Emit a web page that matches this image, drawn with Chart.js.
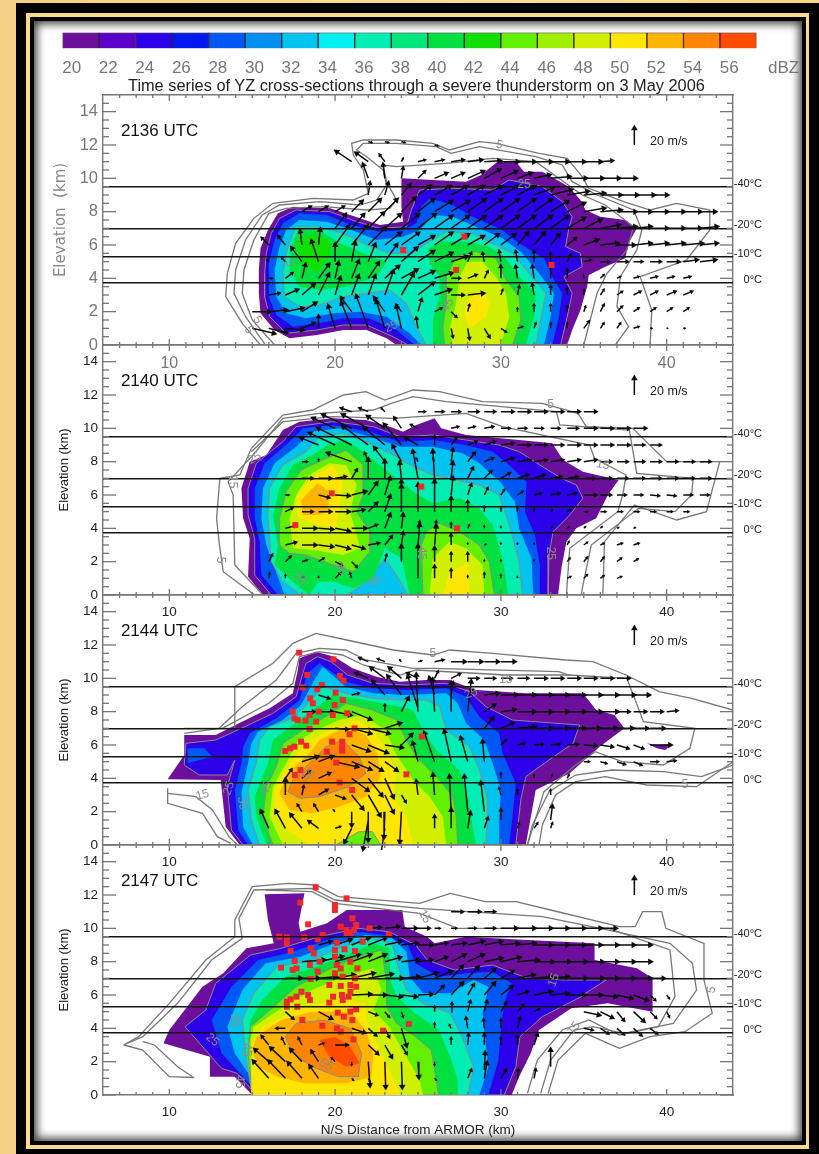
<!DOCTYPE html>
<html>
<head>
<meta charset="utf-8">
<title>YZ cross-sections 3 May 2006</title>
<script src="https://cdn.jsdelivr.net/npm/chart.js@4"></script>
<style>
  html, body { margin: 0; padding: 0; }
  body { width: 819px; height: 1154px; position: relative; overflow: hidden; background: linear-gradient(90deg, #f5cf86, #fbdc98 60%, #f7d48c); font-family: "Liberation Sans", sans-serif; }
  .frame { position: absolute; box-sizing: border-box; }
  #outer { left: 16px; top: 3px; right: 0; bottom: 0; background: #000; }
  #gold { left: 26px; top: 13px; width: 783px; height: 1136px; background: #f9d88f; }
  #innerBlack { left: 30px; top: 17px; width: 776px; height: 1128px; background: #000; }
  #paper { left: 34px; top: 21px; width: 768px; height: 1120px; background: #fff; box-shadow: inset 0 0 9px 3px rgba(0,0,0,.75); }
  canvas { position: absolute; left: 0; filter: blur(.3px); }
  .txt { position: absolute; white-space: nowrap; filter: blur(.3px); }
  #title { left: 128px; top: 76px; font-size: 16.35px; color: #222; }
  #dbz { left: 768px; top: 58px; font-size: 17px; color: #777; }
</style>
</head>
<body>
<div class="frame" id="outer"></div>
<div class="frame" id="gold"></div>
<div class="frame" id="innerBlack"></div>
<div class="frame" id="paper"></div>
<canvas id="colorbar" width="819" height="70" style="top:20px"></canvas>
<div class="txt" id="dbz">dBZ</div>
<div class="txt" id="title">Time series of YZ cross-sections through a severe thunderstorm on 3 May 2006</div>
<canvas id="panel1" width="819" height="350" style="top:45px"></canvas>
<canvas id="panel2" width="819" height="350" style="top:295px"></canvas>
<canvas id="panel3" width="819" height="350" style="top:545px"></canvas>
<canvas id="panel4" width="819" height="350" style="top:795px"></canvas>
<script>
// colour bar
const barLevels = [20,22,24,26,28,30,32,34,36,38,40,42,44,46,48,50,52,54,56];
const barColors = ['#6b0f9c','#5a00c8','#2c00e8','#0018f0','#0058f4','#0090f0','#00c4f0','#00f0f0','#00eeb4','#00e67a','#00e040','#10e000','#60f000','#a0ee00','#d0f000','#ffe600','#ffb400','#ff8400','#ff4c00'];

const xMajor = [10,20,30,40];
const xMinorTicks = [7,8,9,11,12,13,14,15,16,17,18,19,21,22,23,24,25,26,27,28,29,31,32,33,34,35,36,37,38,39,41,42,43];
const yMajor = [0,2,4,6,8,10,12,14];
const yMinorTicks = [.5,1,1.5,2.5,3,3.5,4.5,5,5.5,6.5,7,7.5,8.5,9,9.5,10.5,11,11.5,12.5,13,13.5,14.5];
const isotherms = [3.75,5.3,7,9.5];
const isothermLabels = ['0°C','-10°C','-20°C','-40°C'];

// 2136 UTC reflectivity outlines, x km, y km
const p1Z20 = [23.7,0,34,0,34.3,.9,34.8,2.1,35.2,3.5,35.3,4.2,36.3,4.7,37.5,5.2,37.7,6.1,38.2,7,37.5,7.5,36,7.7,35.1,8.1,34.8,8.7,34.1,9.5,32.5,10.4,31.4,10.4,30.9,11,29.8,11,28.8,10.2,27.9,9.8,25.9,9.9,24,10,24,8.3,24.1,7.4,22.7,7.2,21.5,7.6,19.7,8.2,17.45,8.3,16.55,7.9,15.95,6.9,15.5,5.8,15.4,4.5,15.4,3.1,15.5,1.9,16.35,.9,17.25,.4,18.9,.6,20.5,.9,21.9,.9,23.1,.4];
const p1Z24 = [24.4,0,33.6,0,34,1.7,34.3,3.1,33.8,4.1,34.9,4.7,34.8,5.5,33.9,5.9,34.1,7,34.3,7.7,33.7,8.6,32.5,9.5,30.5,9.9,29.5,9.3,27.1,9.4,25.1,9.3,24.6,8.1,24.3,7.1,22.7,7,21.3,7.4,19.7,8,17.65,8.1,16.65,7.6,16.15,6.7,15.85,5.5,15.75,4.3,15.75,2.9,16.05,1.7,17.05,.7,18.9,.9,20.5,1.2,21.9,1.2,23.5,.5];
const p1Z28 = [24.8,0,33.1,0,33.5,1.7,33.7,3.1,33.1,4.1,32.6,5.2,31.1,6.1,30.1,6.9,28.3,7.7,27.1,8.4,25.7,8.8,25.2,8.3,24.9,7.3,24.1,6.9,22.7,6.8,21,7.2,19.5,7.8,17.85,7.9,16.85,7.3,16.35,6.3,16,4.9,16,2.9,16.45,1.8,17.45,1.1,19.05,1.3,20.5,1.6,22,1.6,23.7,.9];
const p1Z32 = [25.2,0,32.6,0,33,1.7,33.2,3.1,32.3,4.3,31.3,5.5,30.1,6.4,28.5,7.1,27.1,7.7,25.9,7.8,25.1,6.9,24.1,6.5,22.5,6.3,21,6.9,19.5,7.4,17.85,7.5,17.05,6.9,16.65,5.9,16.35,4.5,16.45,2.9,17.05,1.9,18.25,1.6,19.9,1.9,21.5,2,23.1,1.7,24.5,.7];
const p1Z36 = [25.5,0,32.1,0,32.4,1.5,32.7,3.1,31.7,4.3,30.7,5.5,29.5,6.1,28.3,6.7,26.7,6.8,25.5,6.1,24.7,5.5,23.3,5.5,21.9,6,20.5,6.7,18.9,7.1,17.65,7.1,17.15,5.9,16.85,4.3,16.95,2.9,17.85,2.3,19.05,2.4,20.5,2.9,21.9,3.1,23.3,3.3,24.3,2.5,24.9,1.1];
const p1Z40a = [25.9,0,31.5,0,32,1.7,32.1,3.1,31.1,4.1,30.3,5.2,29.3,5.9,27.9,6.2,26.5,6.2,25.6,5.8,25.7,4.9,26.3,4.1,26.3,2.9,25.9,1.5];
const p1Z40b = [17.75,6.9,19.05,6.9,20.3,6.1,21.7,5.5,23.1,5,22.5,4.1,20.7,3.5,19.05,3.3,17.85,3.5,17.25,4.5,17.35,5.9];
const p1Z42 = [17.65,6.3,18.9,6.7,19.8,6,19.5,5.1,18.9,4.3,17.85,5.1];
const p1Z44 = [26.6,0,30.7,0,31.2,1.5,31.1,2.9,30.3,3.9,29.7,5.2,28.5,5.6,27.3,5.3,26.7,4.1,26.7,2.5,26.5,1.1];
const p1Z48 = [27.1,0,30,0,30.5,1.7,30.3,3.1,29.7,4.1,28.9,5,28,5,27.5,4.1,27.3,2.5,26.9,.9];
const p1Z50 = [28.9,3.3,29.3,2.5,29.1,1.7,28.1,1,27.8,1.9,28,2.7];
const p1Line5 = [15.5,0,14.4,1.3,13.4,2.9,13.5,4.3,14,6.1,15.1,7.6,16.25,8.5,18.7,8.8,21.1,8.7,22,9.1,21.7,10.5,21.1,11.4,21,12.1,21.7,12.3,23.7,12.3,25.9,12.1,26.9,11.7,28.7,12.2,29.7,12.1,32.3,11.5,34,11.2,34.9,10.1,35.3,9.4,37.4,8.6,39,8.1,40.6,8.5,42.6,8.1,42.6,6.9,41.2,5.1,38.4,4.1,39.1,2.1,39,0];
const p1Line10 = [15.8,0,14.6,1.7,13.9,3.1,14,4.5,14.6,6.3,15.6,7.8,16.65,8.4,19.1,8.6,21.5,8.4,22.5,8.7,23.1,9.6,22.9,10.5,21.9,11.3,21.3,11.7,21.7,12.1,23.7,12.1,26.1,11.9,27,11.5,28.7,11.9,32.1,11.3,33.7,10.8,34.3,9.8,35.8,9,38,8.1,38.5,6.9,38.2,5.7,37.2,4.1,37,2.3,37.7,1.1,36.9,0];
const p1Line15 = [16.35,0,15,1.5,14.4,3.1,14.5,4.5,15.1,6.3,16,7.9,17.05,8.2,19.3,8.3,21.9,8.1,23.3,8.2,23.7,8.7,23.1,9.8,22.9,10.8,23.7,10.7,26.7,10.9,29.5,11.2,32.1,11,34.9,9,36.3,8.4,38,7.1,37.6,5.7,36.4,4.3,35.8,3.1,35,0];
// wind rows: y, first x, then dx,dy per km along the row
const p1Winds = [
  [12.2,22,.2,-.05,.2,-.05,.2,-.05],[12,26,.2,-.05],
  [11,21,-.9,.6,-.7,.5,-.3,.4,.1,.2,.4,.1,.5,.1,.7,.1,.8,.1,.9,.05,1,0,1,0,1,0,1,0,1,0,1,0,.7,.05],
  [10,22,-.3,.8,-.1,.8,.1,.6,.4,.4,.7,.3,.7,.3,.9,.4,.9,.5,.9,.4,.8,.3,.9,.2,1.1,.1,1.1,0,1.1,0,1.1,0,1.1,0],
  [9,22,.1,.7,.2,.7,.5,.6,.7,.5,.9,.5,.9,.5,.9,.5,1,.5,1,.5,1,.5,1.1,.4,1.2,.3,1.2,.2,1.2,.1,1.2,0,1.2,0,1.2,0,1,0],
  [8,18,.5,.3,.5,.3,.5,.3,.6,.6,.7,.7,.7,.7,.8,.8,.9,.7,1,.6,1,.6,1,.7,1,.7,1,.7,1,.7,1,.7,1,.6,1,.5,1.2,.2,1.2,.1,1.1,0,1,0,1,0,1,0,1,0,.9,0],
  [7,20,.6,.8,.7,.8,.9,.9,.9,.8,1,.8,1,.8,1,.7,1,.7,1,.7,1,.7,1,.7,1,.7,1,.7,1,.7,1,.6,1,.5,1.1,.2,1.1,.1,1,.1,1,0,1,0,1,0,1,.1],
  [6,16,-.4,.4,-.4,.5,-.1,.8,.1,.9,.8,1.1,.9,1.1,1,1,.9,.7,1,.7,.9,.5,1,.7,1,.6,.9,.5,.8,.6,.8,.6,.6,.7,.6,.7,.5,.6,.5,.4,.8,.3,1,.1,1,0,1,.1,1,.1,1,.1,1.1,.1,1,.1],
  [5,16,-.1,.1,-.2,.2,-.6,.8,-.4,1.2,0,1,.2,1.1,.4,1,.7,1,.9,.8,.9,.6,1,.5,.9,.3,.2,.5,-.1,.5,-.1,.6,-.1,.6,0,.6,0,.5,.2,.4,.4,.1,.5,0,.6,0,.5,0,.6,0,.7,0,.8,.1,.9,.1],
  [4,16,.2,0,.4,.3,.2,.8,.6,.8,.2,.9,.4,1,.6,.9,.8,.7,.9,.5,.9,.4,1,.3,.5,0,.5,.2,.2,.4,0,.7,-.1,.7,-.1,.7,0,.8,0,.5,0,.2,.2,.2,.2,.1,.3,.1,.4,.1,.4,.1,.4,.1],
  [3,16,.6,.1,.7,.3,.7,.6,.6,1.2,.3,1,.4,1.1,.4,1.1,.5,1.4,.7,1.2,.9,.7,.9,.3,.7,0,.9,.1,0,0,.1,.3,.1,.5,-.1,.6,0,.5,0,.4,0,.3,.2,.3,.3,.2,.4,.2,.4,.2,.5,.2,.5,.2],
  [2,15,1,0,1,.1,1,.2,.8,.5,0,0,0,0,-.6,.8,0,0,-.6,.8,-.3,.4,.2,.7,.4,.2,.3,-.3,.1,.4,0,0,0,0,0,.2,0,.4,0,.4,0,.3,.1,.3,.2,.4,.3,.3,.3,.2,.3,.2,.3,.2,.3,.2],
  [1,15,1.3,-.3,1,-.25,1,-.1,.7,.3,0,.7,-.4,1.3,-.6,1.5,-.7,1.9,-.5,1.6,-.3,1.3,-.1,.6,0,0,.1,-.5,.1,-.6,.3,-.5,.3,-.2,.3,.1,.1,.3,0,.3,0,.3,.3,.4,.2,.3,.2,.3,.3,.1,.1,0,.05,0,.1,0]
];
const p1Flashes = [24.1,5.7,27.8,6.5,27.3,4.5,33.05,4.8];
const p1Labels = [['5',29.9,12,15],['5',17.25,4.9,70],['25',23.4,1.1,-25],['45',26.8,2.4,-60],['25',31.4,9.6,0],['5',15.3,1.5,60],['5',14.8,.9,60]];

// 2140 UTC
const p2Z20 = [15.65,0,14.75,1.1,14.85,3.4,14.45,4.6,14.35,6.4,14.85,8,15.85,8.4,16.85,9.9,17.85,10.4,19.85,10.6,21.85,10.5,23.3,10.1,24.1,9.8,24.9,10.2,26,10.6,26.4,10,27.9,9.6,31.1,9.3,33.1,9.1,33.75,8.1,34.95,7.4,37.1,6.9,36.45,6,35.75,4.6,34.55,4,33.95,3.2,33.65,1.6,33.45,0];
const p2Z24 = [16.15,0,15.15,1.2,15.15,3.4,14.75,4.8,14.75,6.4,15.25,7.9,16.85,9.2,17.65,10.1,19.85,10.4,22.3,10.1,23.9,9.5,25.9,9.6,27.9,9.3,29.9,9,31.1,8.6,32.35,7.8,33.65,7,34.55,6.6,34.95,5.8,34.15,4.8,33.15,3.8,32.9,2.4,32.85,0];
const p2Z28 = [16.55,0,15.55,1.2,15.45,3.2,15.15,4.6,15.15,6.4,15.75,7.9,17.15,9.1,18.05,10,19.85,10.2,22.1,9.8,23.9,9.2,25.9,9.3,27.9,9,29.5,8.6,30.5,7.8,31.55,6.8,31.45,5,32.05,3.6,32.35,1.8,32.35,0];
const p2Z32 = [16.95,0,15.85,3,15.55,4.6,15.65,6.4,16.35,7.9,17.65,8.9,18.55,9.8,20.25,10,22.1,9.5,23.9,8.9,25.9,8.9,27.7,8.5,28.7,7.9,29.95,6.8,30.85,5.6,31.1,4,31.85,2.2,31.95,0];
const p2Z36 = [17.95,0,16.85,.8,16.15,2,16.05,3.4,15.95,4.8,16.05,6.4,16.85,7.8,18.25,8.6,19.05,9.5,20.45,9.7,22.1,9.1,23.7,8.3,24.7,7.7,25.9,7.2,27.3,6.9,28.7,6.6,29.9,6,30.5,4.2,31.1,2,31.3,0,24.4,0,23.7,1.2,23,2.2,21.9,.8,20.7,0];
const p2Z40 = [18.45,0,17.45,.8,16.35,1.8,16.55,3,16.25,4.8,16.65,6.4,17.45,7.8,18.65,8.4,19.55,9,20.65,9.3,21.7,8.6,22.7,7.8,23.7,7,24.7,6.2,25.9,5.5,27.5,5.8,28.7,5.2,29.5,4.2,30.1,2.2,30.45,0,24.5,0,24,2.2,23,2.8,22.3,1,21.1,.4,19.9,.8,19,.8];
const p2Z44a = [16.65,3,16.65,4.6,17.05,6.2,17.95,7.5,19.25,8.1,20.65,8.7,21.7,7.8,21.7,6,21.3,5,22.1,3.8,22.1,2.6,21.1,1.4,19.9,1.8,18.25,2.4,17.25,2.5];
const p2Z44b = [25.3,0,25.2,3,25.5,3.8,26.3,4.3,27.5,3.8,28.7,3,29.3,2,29.6,0];
const p2Z48a = [17.45,2.8,17.25,4.6,17.65,6,18.45,7.2,19.65,7.9,20.65,7.8,21.3,6.6,20.9,5,21.3,3.6,21.5,2.8,20.5,2.4,18.65,2.7];
const p2Z48b = [25.7,0,25.9,2.2,26.9,3.2,27.9,2.8,28.9,1.8,29,0];
const p2Z50a = [17.75,4.7,17.65,5.8,18.45,6.9,19.85,7.8,20.45,6.8,20.35,5.8,20.05,4,18.85,4.2];
const p2Z50b = [26.5,0,26.9,1.4,28,1.9,28.1,0];
const p2Z52 = [18.05,4.8,17.95,5.7,18.95,6.7,19.55,6.3,19.65,5,18.85,4.8];
const p2Line5 = [15.15,0,13.25,1.4,13,3.2,12.85,4.6,13.05,7,14.25,7.2,14.95,8.8,16.85,10.8,18.65,11.1,20.5,12,21.85,12.2,23,11.7,24.7,12.3,26.3,12.2,28.9,11.6,32.5,11.5,34.65,10.9,35.15,10.1,37.95,10,40,8,43.2,8,42.4,5,40.6,4.5,38.05,5.4,36.25,3.2,36.15,0];
const p2Line10 = [15.65,0,13.95,1.8,13.85,6,13.55,6.8,15.05,8.4,16.85,10.6,19.05,10.9,22.3,11.1,23.4,11.5,24.7,11.9,26.7,11.6,33.35,11,33.55,10.2,37.75,9.9,37.9,9,38.2,7.3,41.6,7,41.5,6,40.5,5,38.3,5.2,35.45,3,34.95,.6,34.85,0];
const p2Line15 = [14.95,8.6,16.85,10.4,19.85,10.7,23.5,10.6,27.9,10.9,30.1,10.1,35.35,9,35.65,8.2,37.55,7.2,37.35,6,37.05,5,34.15,2.8,33.95,0];
const p2Winds = [
  [11,21,-.6,.2,-.5,.2,-.2,.2,0,0,.4,0,.5,0,.5,0,.6,0,.6,0,.7,0,.7,0,.7,0,.7,0,.7,0,.7,0],
  [10,20,-1.3,.6,-1.7,.8,-1.5,.8,-1,.7,-.4,.6,-.4,.2,0,0,.4,.1,.4,.1,.5,.1,.5,0,.5,0,.5,0,.5,0,.6,0,.7,0,.7,0,.7,0,.7,0],
  [9,19,-1,.4,-1.5,.7,-2,1,-1.5,1.1,-1.2,1,-1,1.2,-.7,.4,0,.5,.3,.4,.5,.2,.6,.2,.7,.1,.7,0,.7,0,.7,0,.7,0,.7,0,.7,0,.7,0,.6,0,.6,0],
  [8,18,.3,0,0,.15,0,0,-1.4,.5,-.2,.5,-.6,.8,-.5,.9,-.1,.2,-.1,.2,.1,.7,.4,.5,.5,.2,.7,.2,.7,.1,.7,.1,.7,.1,.7,.1,.7,.1,.6,0,.6,0,.6,0,.6,0,.6,0,.6,0,.6,0],
  [7,18,.6,0,.7,0,.6,.1,.3,.5,0,1.1,0,1,-.1,.9,-.3,1.6,-.1,1.6,.1,.9,.3,.6,.4,.4,.5,.3,.6,.2,.6,.2,.6,.1,.6,.1,.6,0,.6,0,.6,0,.6,0,.6,0,.6,0,.6,0,.6,0],
  [6,17,.2,0,0,0,.6,-.15,.8,-.05,.8,.2,.5,.7,.3,1,0,.8,0,0,0,0,.1,1,.2,.6,.2,.4,.2,.3,.3,.2,.4,.1,.5,.1,.5,.1,.7,0,.6,0,.5,0,.5,0,.5,-.05,.5,-.05,.5,0,.5,0],
  [5,17,.4,.2,.6,0,.7,0,.8,0,.7,.1,.5,.5,.3,.9,0,1.5,0,1.6,0,1.8,0,.8,0,.6,0,.3,0,.2,0,.2,0,.2,.1,.1,.2,.1,.2,0,.3,0,.3,0,.3,0,.3,0,.3,0,.3,0],
  [4,17,.6,.15,.8,0,.8,-.05,.8,-.15,.8,0,.5,.2,.3,.8,.1,.8,.1,.4,.1,.4,0,.3,.1,.2,0,.15,0,.1,0,0,0,0,.1,.1,.1,.1,.1,.1,.1,.1,.1,.05,.1,.05],
  [3,17,.6,.15,.8,0,.8,-.1,.8,-.2,.7,-.2,.6,.1,.4,.5,.1,.7,.1,1.2,.1,1.1,0,.6,0,.1,.1,.05,0,.1,0,.1,0,.1,0,0,.1,.2,.2,.15,.2,.1,.3,.1,.3,.1],
  [2,16,.2,.4,.3,.3,.3,.1,.3,.2,.4,-.2,.3,-.3,0,0,.1,.4,0,.9,0,0,0,.8,0,.5,0,.5,0,.1,0,.1,0,0,0,.1,0,0,.15,.2,.2,.25,.2,.25,.25,.2,.25,.15],
  [1,16,.05,.3,0,.2,.1,.1,0,.1,.3,.3,-.1,.3,0,0,0,0,0,0,0,1.9,0,.7,0,.5,0,.15,0,.3,0,.2,0,.1,0,0,0,0,.2,.1,.2,.2,.2,.15,.25,.1]
];
const p2Flashes = [19.8,6.1,17.6,4.2,25.2,6.5,27.35,4];
const p2Labels = [['5',33,11.4,0],['5',13.1,2.1,90],['15',36.15,7.8,10],['15',13.8,6.8,90],['45',25.2,2.5,90],['35',17.9,1,40],['35',20.3,1.6,50],['35',22.4,.8,-40],['25',33,2.5,90],['25',15.15,8.2,-30]];

// 2144 UTC
const p3Z20 = [14.25,0,13.4,1.1,13.1,3.9,9.9,3.95,10.9,5.4,10.9,6.6,12.8,6.6,14.2,7.3,16.05,8.2,17.45,9.1,17.75,10.5,17.85,11.2,18.85,11.6,19.95,11.3,21.05,10.6,22.5,10.1,23.9,9.8,25.5,9.9,26.9,9.9,28.5,9.3,31.5,9.1,34.95,9.1,35.75,8.1,36.85,7.8,37.45,7,35.95,5.9,34.15,4.3,32.1,3.3,31.7,1.1,31.5,0];
const p3Z20b = [38.8,6.1,39.4,6,40,6.05,40.3,6,39.9,5.7,39.4,5.8];
const p3Z24 = [14.45,0,13.75,.9,13.5,3.5,13.95,5.1,13.5,4.2,11.8,4.2,10.9,4.8,11,6.1,12.8,6.3,14.35,7,16.25,7.9,17.65,8.9,18.05,10.3,18.25,10.9,18.95,11.3,19.75,11,20.75,10.2,22.3,9.7,24.3,9.6,26.7,9.7,28.1,9.2,29.1,8.3,30.7,7.5,34.75,7.2,34.35,6.1,32.9,5.1,31.5,4.1,31.2,2.7,30.9,0];
const p3Z28 = [14.75,0,14.15,.9,13.95,3.3,14.35,4.9,14.45,5.9,14.85,6.7,16.45,7.6,17.85,8.7,18.35,10.3,19.05,10.9,19.65,10.5,20.65,9.8,22.3,9.4,24.3,9.3,26.7,9.4,27.9,8.9,28.7,7.7,29.9,6.7,30.1,5.5,30.9,3.7,30.7,1.7,30.5,0];
const p3Z28b = [11.1,5.8,12.1,5.8,12.6,5.3,11.1,4.9];
const p3Z32 = [15.05,0,14.45,1.1,14.35,3.1,14.75,4.9,14.95,6.1,15.35,6.8,16.85,7.5,17.95,8.4,18.75,9.9,19.25,10.7,20.65,9.5,22.3,9.1,24.3,9,26.7,9.1,27.4,8.5,27.9,7.3,29,6.3,29.5,4.9,30,3.3,29.9,1.7,29.9,0];
const p3Z36 = [15.45,0,14.95,1.5,14.75,3.3,15.25,4.9,15.45,6.3,16.05,7.1,17.45,7.6,18.45,8.6,19.25,9.5,20.65,9.1,22.3,8.8,23.9,8.7,25.5,8.7,26.3,8.3,26.7,6.9,28.1,5.9,28.7,4.5,29.2,2.7,29.1,0];
const p3Z40 = [15.85,0,15.25,1.7,15.15,2.9,15.95,4.9,16.25,6.3,17.45,7.2,18.65,8.1,19.85,9,21.25,8.8,23.9,8.3,24.7,8.1,25.3,6.9,26.1,5.7,27.5,4.5,28,2.9,28.5,0];
const p3Z44 = [16.25,0,15.65,1.7,15.85,3.5,16.45,4.7,16.85,6.1,18.05,6.9,19.45,7.7,20.65,8.5,22.25,8.1,23.7,7.5,24.3,6.3,24.9,5.3,26.3,3.9,27.1,2.9,27.3,1.7,27.4,0];
const p3Z48 = [16.85,0,16.05,1.7,16.25,3.5,17.05,4.9,17.65,6.1,18.65,6.8,20.25,7.5,21.65,7.8,23.05,6.9,23.65,5.5,24.7,3.9,25.7,2.9,26.5,1.7,26.7,0];
const p3Z50 = [18.45,0,16.85,1.1,16.35,2.3,16.35,3.3,17.25,4.9,18.25,6.1,19.25,6.7,21.25,7.5,22.25,7,23.1,5.7,23.7,4.3,23.5,2.9,24.3,1.7,24.7,0];
const p3Z44b = [20.05,0,21.45,.8,22.25,.8,22.75,0];
const p3Z52 = [16.65,3.1,17.15,4.3,18.45,5.5,19.05,6.3,20.65,7.1,21.85,6.6,22.55,5.5,22.75,4.1,21.85,2.9,20.25,2.3,18.65,1.9,17.25,2.1];
const p3Z54 = [17.15,3.2,17.45,3.9,18.45,4.9,19.45,5.9,20.45,6.3,21.45,5.3,21.85,4.3,20.85,3.5,19.05,2.9,17.85,2.8];
const p3Line5 = [10.9,7,13.95,7,13.95,9.5,16.25,10.9,17.45,12.1,18.85,12.7,20.7,12.3,23.5,11.7,25.9,11.4,26.9,11.7,29.5,11.5,33.9,11.1,35.55,11,37.55,10.2,39.55,9.2,41.5,8.8,44,8.1];
const p3Line10 = [10.9,6.7,13,7,14.4,8.3,16.45,9.9,17.65,11.5,19.05,11.8,20.65,11.7,21.85,11.1,24.7,10.6,25.9,10.6,33.5,10.4,34.1,10.2,37.6,10,38.6,7.4,41.7,7,41.4,5.8,39.8,4.8,37.3,5,35.7,5.6,34.5,4.8,32.6,3.2,31.6,0];
const p3Line15 = [13.2,7,16,8.5,17.45,9.7,17.85,11.3,19.05,11.6,20.45,11.4,21.7,10.8,23.9,10.2,24.9,10.5,30.3,10.2,34.2,10.2];
const p3Line20 = [9.9,3.4,9.9,2.5,12,1.9,12.9,.5,13.7,.1];
const p3Line25 = [9.9,3.1,11.6,2.9,12.6,2.1,13.6,.5,14.1,0];
const p3Line30 = [44,5,41.8,3.5,38.8,3.6,36.3,4.1,34.5,3.8,33.3,3,32.5,1.2,32.3,0];
const p3Line35 = [44,4.8,42.1,4.1,39.8,4.4,36.7,4.5,34.5,4.2,32.9,3.2,31.9,1.2,31.6,0];
const p3Winds = [
  [11,22,-.5,.2,-.4,.15,-.1,.1,.2,.05,.5,.1,.8,0,.8,0,.8,0,.8,0],
  [10,22,-.7,.3,-.8,.6,-.7,.6,-.6,.3,.2,.4,.5,.25,.6,0,.6,0,.6,0,.6,0,.7,0,.7,0,.7,0,.7,0,.7,0,.7,0],
  [9,19,.6,-.2,0,0,.4,.1,0,0,-.7,.8,-.8,1.1,0,0,-.3,1,.1,.7,.3,.3,.8,.1,.9,0,1,0,1,0,1,0,1,0,1,0,1,0,1,0,.9,0],
  [8.2,25,-.6,1.9],
  [8,18,.7,0,.8,0,.9,-.2,1.1,-.45,0,0,0,.4,.4,.8,-.1,2.2,-.1,1.9,0,1.7,.2,1.8,.6,.4,.8,.1,1,0,1,0,1,0,1,0,1,0,1,0,.7,0,.7,0,.7,0,.6,.05],
  [7,20,.7,-.05,1.1,-.3,1.2,-.3,.9,.3,0,0,0,0,0,0,0,0,0,0,.5,.6,.7,.3,1,.1,1,0,1,0,1,0,.9,0,.9,0,.9,0,.8,0,.8,0],
  [6,21,1,-.35,1.1,-.45,1,-.15,.6,.6,0,0,0,0,0,0,0,0,0,0,.3,.3,.4,.1,.5,.05,.5,.05,.6,.05,.7,-.05,.7,-.1,.65,-.2,.55,-.2,1.2,0],
  [5,18,.9,.3,.8,.3,1.3,-.3,1.1,-.45,.8,-.5,.7,-.5,0,0,-.3,1.1,-.6,1.7,-.4,1.8,-.4,1.4,-.1,1.2,0,0,0,0,0,0,0,0,0,0,.3,0,.35,-.1,.45,-.15,.45,-.2,.45,0,.5,.05],
  [4,17,.35,.5,.45,.4,.65,.3,0,0,.95,-.7,.8,-1,.5,-1.1,0,0,0,0,0,0,0,0,0,0,0,0,0,.3,0,0,0,.2,.1,.2,.1,.2],
  [3,17,0,.9,.1,.5,.5,.3,.55,-.2,.65,-.8,.7,-1.2,.5,-1,.25,-.4,-.1,.8,-.1,1.2,0,0,0,0,0,0,-.1,.4,0,.3,0,0,0,.3],
  [2,18,-.25,.4,-.25,.4,-.1,.1,0,-.8,0,-1.7,-.05,-1.5,-.1,-1.8,0,0,0,0,-.1,2.1,-.2,2.1,-.2,1.7],
  [1.5,22,-.3,-1.7],[1.5,30,0,.6],[1.5,33,.1,.8],
  [1,16,-.45,1,-.55,1,-.65,.8,-.55,.4,.3,.1,-.4,-.8,0,0,-.2,-1.3,0,0,0,0,0,.7,0,1.1,.15,.9,.2,.6,0,0,.1,.3,.2,.3,.1,.3]
];
const p3Flashes = [17.83,11.54,19.9,11.14,18.32,10.2,18.05,9.46,19.2,9.6,18.92,9.34,20.29,10.14,20.51,9.86,20.03,9.14,18.5,8.8,18.66,8.5,20.47,8.7,19.97,8.4,17.45,8,17.55,7.6,17.75,7.5,18.46,7.8,18.22,7.46,18.86,7.4,19.02,8,19.86,7.8,20.73,7.9,18.46,6.96,21.17,7,20.87,6.64,17.95,6.2,18.26,5.96,17.55,5.9,17.29,5.8,16.99,5.64,19.82,6.2,20.43,6.2,20.43,5.86,20.43,5.66,19.5,5.6,20.07,4.94,17.91,4.5,17.57,4.2,24.3,4.24,25.23,6.5,20.27,3.76,21.03,3.3];
const p3Labels = [['5',25.9,11.5,0],['15',30.3,9.9,0],['15',12,3,-15],['25',28.2,9.1,-20],['35',14.4,2.5,80],['25',13.6,3.4,-70],['45',15.85,3.4,-70],['55',18.4,4.2,-30],['5',41.1,3.6,0]];

// 2147 UTC
const p4Z20 = [15,0,13.95,1.1,12.45,1.1,12.45,2.3,9.65,3.1,10,3.9,12,6.5,13.25,7.3,14.65,8.8,16.3,9.1,15.95,10.5,15.75,12.05,18.15,12.1,17.8,10.3,17.9,9.8,19.5,10.3,20.7,11.1,24.05,11.1,24.2,10.1,25.55,9.5,26,9.1,27.9,9.5,31.6,9.3,35.65,9.1,35.65,8.1,38.2,7.6,39.15,7,39.15,5,36.45,5.5,34.25,5.2,32.3,3.9,31.8,2.5,31.1,1.1,30.65,0];
const p4Z24 = [15.25,0,14.1,1.3,13.15,1.6,10.95,4.1,12.2,5.1,12.8,6.7,14.9,8.4,16.75,8.8,19.05,9.5,21.4,10,23.25,9.8,24.85,9,25.55,8.1,27.2,7.5,29.5,7.8,31.6,7,33.9,6.9,36.35,6.9,35.1,6.1,34.85,5.9,32.5,4.7,31.15,3.5,30.9,1.7,30.2,0];
const p4Z28 = [15.45,0,14.45,1.1,13.15,2.5,12.55,4.5,13.75,6.5,15.35,8.1,17.45,8.6,19.5,9.3,21.4,9.8,23,9.6,24.4,9,24.85,7.9,26.25,7.1,27.9,7.3,29.5,7.4,30.65,6.7,30.2,5.5,30,3.9,29.85,2.1,29.25,0];
const p4Z32 = [15.95,0,14.9,1.1,13.95,2.5,13.5,4.1,14.4,6.3,15.8,7.9,17.9,8.3,20,9.1,21.85,9.6,23.45,9.4,24.3,8.6,24.5,7.1,25.3,6.1,26.95,6.1,28.35,6.9,29.25,6.5,28.9,4.9,29.05,3.3,29.25,1.7,28.7,0];
const p4Z36 = [15,0,14.65,2.1,14.4,4.5,15.1,6.1,16.5,7.7,18.6,8.1,20.2,8.8,22.1,9.4,23.45,9.1,23.8,7.7,24.3,6.3,25.3,5.5,26.95,4.9,27.65,3.5,28.35,1.7,28,0];
const p4Z40 = [15,0,14.75,3.3,14.9,4.5,15.6,5.7,17,7.1,18.85,7.7,20.7,8.4,22.3,9.1,23.25,8.8,23.35,6.9,23.7,5.9,24.85,4.9,26.25,3.9,26.95,2.3,27.4,.9,27.4,0];
const p4Z44 = [15,0,14.75,2.5,14.9,4.1,16.3,5.3,17.65,6.5,19.55,7.5,21.4,8.3,22.8,8.7,23.1,6.9,23.1,5.3,23.7,4.3,24.85,3.5,25.8,2.7,26.25,0];
const p4Z48 = [14.95,0,14.9,3.3,15.1,4.1,16.75,5.2,18.6,6.3,20.45,7.1,22.3,7.6,22.8,6.3,22.3,5.1,23.25,4.1,23.95,2.9,25.1,.9,25.3,0];
const p4Z50 = [15,0,15,3.1,15.6,4.1,17.45,5,19.05,5.5,20.9,5.7,21.85,5.5,21.85,4.7,22.3,3.5,23,2.1,23.95,0];
const p4Z52 = [15,2.7,15.25,3.5,16.75,4.5,18.6,5,20.9,5,21.85,3.9,22.3,2.5,22.2,1.1,20.7,.7,18.15,.7,16.5,1.1,15.35,1.7];
const p4Z54 = [17,3.5,17.65,4.3,19.3,4.5,20.9,4,21.6,2.5,21.4,1.1,20.2,1.1,18.6,1.7,17.45,2.5];
const p4Z56 = [19.05,3.3,20,3.5,20.9,2.9,21.5,1.9,20.7,1.7,19.65,2.3];
const p4Line5 = [7.25,3,8.15,3.5,10,5.5,12.2,8.1,13.95,9.5,13.95,10.5,15,12.5,17.2,12.7,18.85,12.6,20.2,11.9,25.1,11.5,26.95,12.1,29.05,11.6,30.9,11.6,33,11.1,37.15,10.1,38.1,10.1,38.55,11,39.7,11,39.95,10,42.25,9.1,42.25,6.9,42.75,4.9,41.1,3.8,39,3.5,37.15,2.8,35.1,3.7,33.45,2.1,32.85,.1];
const p4Line10 = [7.25,3,8.4,3.5,10.5,5.5,12.55,8.1,14.4,9.4,14.2,10.6,15.1,12.3,18.6,12.4,20,11.7,25.1,11.2,32.5,10.7,36,10,40.2,9.1,41.55,7.9,41.8,6.3,40.4,4.3,37.4,3.7,35.55,4.1,34.4,3.9,33,2.1,32.4,.1];
const p4Line15 = [15.8,12.3,18.6,12.2,20,11.5,25.1,10.9,27.4,10,36.5,10,40.2,8.7,40.5,5.9,39.5,4.1,37.15,3.6,35.3,4.5,33.7,3.9,32.2,2.1,31.6,.1];
const p4Line20 = [7.25,3,8.4,2.7,10,1.1,11.5,1.05];
const p4Line25 = [8.4,3.2,9.1,3,10.5,1.7,11.4,1.1];
const p4Winds = [
  [11,27,.65,0,.7,0,.6,0],
  [10,22,.7,.05,.8,.1,.85,0,.65,0,.3,0,.3,0,.45,0,.6,0,.9,0,1,0,1,0,1,0,1,0,1,0,.9,0],
  [9,19,.7,.2,.9,.3,1,.4,1,.4,.9,.2,.9,.1,.8,0,.7,.1,.8,.1,.9,.2,1,.2,1,.1,1,.1,1,0,1,0,1,0,1,0,1,0,1,0,1,0],
  [8,18,1.3,.1,1.4,.3,1.4,.4,1.1,.4,1,.4,.9,.25,1,.1,.8,.1,.7,.25,.8,.4,.9,.4,1,.2,1.1,.25,1.2,.1,1.1,0,1.1,0,1.1,0,1.1,0,1,0,1,0,1,0],
  [7,17,.9,0,.95,0,1,.1,1.1,.2,1.3,.3,1.4,.25,1,0,1,.1,1.1,.3,.95,.4,.65,.7,.6,.65,.6,.5,.7,.4,.95,.2,1,.1,1,.1,1.1,0,1.1,0,1,0,1,0,1,0,.8,0],
  [6,21,1.1,.05,1,0,.95,-.1,.85,-.1,.8,.05,.5,.5,.65,.7,.35,.6,.6,.7,.65,.5,.6,.2,1,.2,1,.1,1,0,1,0,.9,-.1,.85,-.2,.8,-.3,.3,-.3,.15,-.2],
  [5,17,.45,-.4,0,0,.75,-.4,0,0,0,0,.5,-.2,.25,-.3,.1,-.3,0,0,0,.3,.05,.5,.15,.6,.15,.6,.3,.5,.35,.4,.3,.15,0,0,0,0,.9,-.2,.7,-.35,.4,-.5,.6,-.55,.35,-.35,.15,-.3],
  [4,17,-.5,0,0,0,0,0,0,0,.75,-.25,.45,-.4,.25,-.5,.3,-1,0,0,0,.3,-.1,.2,-.1,.6,-.05,.5,0,.5,.15,.6,0,0,0,0,0,0,.5,-.1,.45,-.3,.4,-.35,.45,-.4,.4,-.3],
  [3,16,-.4,.5,-.2,.4,-.2,.4,.3,.1,.7,0,0,0,.55,-.5,.4,-.7,.3,-.5,0,0,0,0,0,.4,.05,.6,0,.6,0,.4,0,.5,.2,.6],
  [2,16,-.8,.7,-.85,.8,-.65,.7,-.4,.6,-.2,.2,0,-.2,.1,-1.4,.05,-1.5,.05,-1.5,.05,-.9,0,-.2,0,0,0,0],
  [1.7,33,0,1],[1.5,29,.05,1],
  [1,16,-.9,1,-.95,1,-.8,.9,-.5,.7,0,0,.1,-.1,.1,-.2,0,0,0,0,0,0,.1,-.1,0,0,.2,.5,.15,.9,.3,.5,.05,.5,.1,.5]
];
const p4Flashes = [18.83,12.46,20.69,11.8,17.9,11.54,19.99,11.4,19.99,11.1,18.37,10.24,21.04,10.6,21.27,10.2,20.34,10.1,20.69,9.9,21.15,9.9,20.92,9.66,20.69,9.66,22.08,10,23.24,9.6,16.63,9.5,17.09,9.46,17.09,9.1,18.14,9.46,19.25,9.6,18.95,9.34,20.11,9.14,21.66,9.2,17.32,8.64,18.53,8.8,18.72,8.5,19.99,8.7,19.99,8.3,20.57,8.74,21.2,8.64,17.56,8.04,19.06,8,18.48,7.8,16.74,7.64,17.67,7.6,17.44,7.5,18.95,7.4,20.11,7.8,20.34,7.6,20.92,8,21.34,7.6,19.99,7.3,20.46,7.1,18.53,6.96,21.2,7,19.65,6.6,20.34,6.54,20.92,6.6,21.27,6.5,20.92,6.2,20.41,6,20.81,5.9,20.46,5.7,19.88,5.9,17.97,6.2,18.37,6,17.67,5.9,18.48,5.7,17.32,5.74,17.09,5.6,17.09,5.3,17.72,5.3,19.65,5.54,20.16,4.94,20.53,4.7,20.92,5,21.27,5.14,21.04,4.5,18.02,4.5,19.23,4.16,20.11,4,20.34,3.8,21.11,3.34,22.89,3.86,24.45,4.26];
const p4Labels = [['15',25.4,10.7,60],['25',12.6,3.3,40],['35',13.9,4.5,90],['45',14.65,2.7,90],['55',19.45,1.8,30],['5',42.7,6.3,-80],['15',33.2,6.9,-70],['15',34.4,4,-50],['45',14.2,.8,90]];

const gray = '#767676';
const contourLevels = [24,36,44,54];

const panels = [
  { id: 'panel1', time: '2136 UTC', faint: true,
    fills: [[20,p1Z20],[24,p1Z24],[28,p1Z28],[32,p1Z32],[36,p1Z36],[40,p1Z40a],[40,p1Z40b],[42,p1Z42],[44,p1Z44],[48,p1Z48],[50,p1Z50]],
    lines: [p1Line5,p1Line10,p1Line15], winds: p1Winds, flashes: p1Flashes, labels: p1Labels },
  { id: 'panel2', time: '2140 UTC',
    fills: [[20,p2Z20],[24,p2Z24],[28,p2Z28],[32,p2Z32],[36,p2Z36],[40,p2Z40],[44,p2Z44a],[44,p2Z44b],[48,p2Z48a],[48,p2Z48b],[50,p2Z50a],[50,p2Z50b],[52,p2Z52]],
    lines: [p2Line5,p2Line10,p2Line15], winds: p2Winds, flashes: p2Flashes, labels: p2Labels },
  { id: 'panel3', time: '2144 UTC',
    fills: [[20,p3Z20],[20,p3Z20b],[24,p3Z24],[28,p3Z28],[28,p3Z28b],[32,p3Z32],[36,p3Z36],[40,p3Z40],[44,p3Z44],[48,p3Z48],[50,p3Z50],[44,p3Z44b],[52,p3Z52],[54,p3Z54]],
    lines: [p3Line5,p3Line10,p3Line15,p3Line20,p3Line25,p3Line30,p3Line35], winds: p3Winds, flashes: p3Flashes, labels: p3Labels },
  { id: 'panel4', time: '2147 UTC', xTitle: 'N/S Distance from ARMOR (km)',
    fills: [[20,p4Z20],[24,p4Z24],[28,p4Z28],[32,p4Z32],[36,p4Z36],[40,p4Z40],[44,p4Z44],[48,p4Z48],[50,p4Z50],[52,p4Z52],[54,p4Z54],[56,p4Z56]],
    lines: [p4Line5,p4Line10,p4Line15,p4Line20,p4Line25], winds: p4Winds, flashes: p4Flashes, labels: p4Labels }
];

const toPoints = flat => {
  const pts = [];
  for (let i = 0; i < flat.length; i += 2) pts.push({ x: flat[i], y: flat[i + 1] });
  return pts;
};

const windArrows = rows => {
  const arrows = [];
  rows.forEach(([y, x0, ...uv]) => {
    for (let i = 0; i < uv.length; i += 2) {
      if (uv[i] !== 0 || uv[i + 1] !== 0) arrows.push([x0 + i / 2, y, uv[i], uv[i + 1]]);
    }
  });
  return arrows;
};

const buildDatasets = panel => {
  const list = [];
  panel.fills.forEach(([level, flat]) => {
    const pts = toPoints(flat);
    pts.push(pts[0]);
    list.push({
      data: pts, showLine: true, fill: 'shape', pointRadius: 0, tension: 0,
      backgroundColor: barColors[barLevels.indexOf(level)],
      borderColor: contourLevels.includes(level) ? '#8a8a8a' : 'transparent',
      borderWidth: contourLevels.includes(level) ? 1 : 0
    });
  });
  panel.lines.forEach(flat => {
    list.push({ data: toPoints(flat), showLine: true, fill: false, pointRadius: 0, borderColor: '#777', borderWidth: 1.3 });
  });

  const arrows = windArrows(panel.winds);
  arrows.push([38.05, 12, 0, 1]); // 20 m/s key
  const shafts = [];
  arrows.forEach(([x, y, dx, dy]) => {
    shafts.push({ x, y }, { x: x + dx, y: y + dy }, { x: null, y: null });
  });
  list.push({ data: shafts, showLine: true, fill: false, pointRadius: 0, borderColor: '#0c0c0c', borderWidth: 1.5, clip: false });
  list.push({
    data: arrows.map(([x, y, dx, dy]) => ({ x: x + dx, y: y + dy })),
    showLine: false, pointStyle: 'triangle', clip: false,
    pointRadius: arrows.map(([, , dx, dy]) => Math.min(3.8, 1.2 + Math.hypot(dx, dy) * 3)),
    pointRotation: arrows.map(([, , dx, dy]) => Math.atan2(dx, dy) * 180 / Math.PI),
    backgroundColor: '#0c0c0c', borderColor: '#0c0c0c', borderWidth: 0
  });
  list.push({
    data: toPoints(panel.flashes), showLine: false, pointStyle: 'rect',
    pointRadius: 4.2, backgroundColor: '#f0282c', borderColor: '#f0282c', borderWidth: 0
  });
  list.forEach((d, i) => { d.order = list.length - i; });
  return list;
};

// inward tick marks and text that sit at data positions
const panelText = {
  id: 'panelText',
  afterDraw(chart, args, opts) {
    const { ctx, chartArea: area, scales: { x, y } } = chart;
    ctx.save();
    ctx.strokeStyle = gray;
    ctx.lineWidth = 1.3;
    const mark = (x1, y1, x2, y2) => { ctx.beginPath(); ctx.moveTo(x1, y1); ctx.lineTo(x2, y2); ctx.stroke(); };
    const xMark = (v, len) => {
      const px = x.getPixelForValue(v);
      mark(px, area.bottom, px, area.bottom - len);
      mark(px, area.top, px, area.top + len);
    };
    const yMark = (v, len) => {
      const py = y.getPixelForValue(v);
      mark(area.left, py, area.left + len, py);
      mark(area.right, py, area.right - len, py);
    };
    xMajor.forEach(v => xMark(v, 6));
    xMinorTicks.forEach(v => xMark(v, 3));
    yMajor.forEach(v => yMark(v, 13));
    yMinorTicks.forEach(v => yMark(v, 6));
    ctx.restore();

    const put = (text, dx, dy, font, color, rot, align) => {
      ctx.save();
      ctx.translate(x.getPixelForValue(dx), y.getPixelForValue(dy));
      ctx.rotate((rot || 0) * Math.PI / 180);
      ctx.font = font;
      ctx.fillStyle = color;
      ctx.textAlign = align || 'center';
      ctx.textBaseline = 'middle';
      ctx.fillText(text, 0, 0);
      ctx.restore();
    };
    const p = opts.panel;
    p.labels.forEach(([t, lx, ly, r]) => put(t, lx, ly, '12px "Liberation Sans"', '#8c8c8c', r));
    put(p.time, 7.08, 12.8, '17px "Liberation Sans"', '#111', 0, 'left');
    put('20 m/s', 39, 12.2, '12.5px "Liberation Sans"', '#222', 0, 'left');
    if (p.faint) put('Elevation  (km)', 3.45, 7.5, '15px "DejaVu Sans"', '#888', -90);
    else put('Elevation (km)', 3.7, 7.5, '13px "Liberation Sans"', '#222', -90);
    if (p.xTitle) put(p.xTitle, 25, -2.1, '13.5px "Liberation Sans"', '#222');
  }
};

const frameAxis = (axis, position, min, max, values) => ({
  type: 'linear', axis, position, min, max,
  afterBuildTicks: fixedTicks(values),
  ticks: { display: false, autoSkip: false },
  border: { color: gray, width: 1.4 },
  grid: { drawOnChartArea: false, drawTicks: false }
});

function fixedTicks(values) {
  return scale => { scale.ticks = values.map(value => ({ value })); };
}

panels.forEach(panel => {
  const labelColor = panel.faint ? '#777' : '#222';
  const xFont = panel.faint ? 16 : 13.5;
  const yFont = panel.faint ? 16.5 : 13.5;
  const padding = { left: 103, right: 86, top: 50, bottom: 50 };
  const chart = new Chart(document.getElementById(panel.id), {
    type: 'scatter',
    data: { datasets: buildDatasets(panel) },
    plugins: [panelText],
    options: {
      responsive: false,
      animation: false,
      events: [],
      layout: { padding },
      plugins: { legend: { display: false }, tooltip: { enabled: false }, title: { display: false }, panelText: { panel } },
      scales: {
        x: {
          ...frameAxis('x', { y: 0 }, 6, 44, xMajor),
          ticks: { display: true, color: labelColor, font: { family: 'Liberation Sans', size: xFont }, padding: 9, maxRotation: 0, autoSkip: false }
        },
        xTop: frameAxis('x', { y: 15 }, 6, 44, xMajor),
        y: frameAxis('y', { x: 6 }, 0, 15, yMajor),
        yLabels: {
          type: 'linear', axis: 'y', position: { x: 5.7 }, min: 0, max: 15,
          afterBuildTicks: fixedTicks(yMajor),
          border: { display: false },
          grid: { display: false },
          ticks: { color: labelColor, font: { family: 'Liberation Sans', size: yFont }, autoSkip: false }
        },
        yRight: frameAxis('y', { x: 44 }, 0, 15, yMajor),
        temp: {
          type: 'linear', axis: 'y', position: { x: 45.75 }, min: 0, max: 15,
          afterBuildTicks: fixedTicks(isotherms),
          border: { display: false },
          grid: { drawOnChartArea: true, drawTicks: false, color: '#141414', lineWidth: 1.6, z: 1 },
          ticks: {
            autoSkip: false, labelOffset: -3, color: '#222',
            font: { family: 'Liberation Sans', size: 11 },
            callback: v => isothermLabels[isotherms.indexOf(v)]
          }
        }
      }
    }
  });
  // the positioned axes eat some room at the top, give the plot its full height back
  padding.top = 50 - (chart.chartArea.top - 50);
  chart.options.layout.padding = padding;
  chart.update();
});

new Chart(document.getElementById('colorbar'), {
  type: 'bar',
  data: {
    labels: barLevels,
    datasets: [{ data: barLevels.map(() => 1), backgroundColor: barColors, borderColor: '#3a2030', borderWidth: 1, barPercentage: 1, categoryPercentage: 1 }]
  },
  options: {
    responsive: false,
    animation: false,
    events: [],
    layout: { padding: { left: 62.5, right: 62.5, top: 12.5, bottom: 0 } },
    plugins: { legend: { display: false }, tooltip: { enabled: false } },
    scales: {
      y: { display: false, min: 0, max: 1 },
      x: {
        afterFit: s => { s.height = 41.5; },
        border: { display: false },
        grid: { display: false, drawTicks: false },
        ticks: { color: '#777', font: { family: 'Liberation Sans', size: 17 }, labelOffset: -9, padding: 10, maxRotation: 0, autoSkip: false }
      }
    }
  }
});
</script>
</body>
</html>
